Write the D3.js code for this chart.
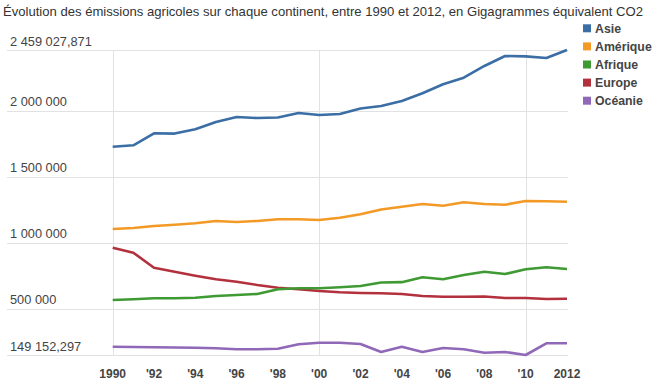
<!DOCTYPE html>
<html>
<head>
<meta charset="utf-8">
<script src="https://cdn.jsdelivr.net/npm/d3@7"></script>
<style>
  body { margin: 0; background: #fff; }
  svg { font-family: "Liberation Sans", Arial, sans-serif; }
  .grid line { stroke: #e2e2e2; stroke-width: 1px; }
  .ylab { fill: #444; font-size: 12.8px; }
  .xlab { fill: #444; font-size: 12px; font-weight: bold; }
  .legend text { fill: #444; font-size: 12.3px; font-weight: bold; }
</style>
</head>
<body>
<svg id="chart" width="653" height="384"></svg>
<script>
var years = d3.range(1990, 2013);

var asie = [1726700, 1737300, 1828000, 1826000, 1858500, 1913700, 1951600, 1944000, 1947800, 1982000, 1967000, 1974400,
            2016000, 2035000, 2072800, 2131000, 2199200, 2249200, 2337900, 2413600, 2411000, 2398500, 2459027.871];
var amerique = [1103400, 1111000, 1126100, 1136000, 1146600, 1164000, 1156400, 1164000, 1176900, 1176900, 1171600, 1189000,
                1214700, 1251000, 1272300, 1292700, 1280000, 1305600, 1292700, 1287400, 1315400, 1313200, 1310100];
var afrique = [565700, 571000, 578600, 578600, 583100, 596000, 603600, 611100, 646700, 654300, 654300, 661900,
               671700, 698200, 700700, 737600, 722500, 755000, 780000, 762600, 798200, 813300, 800500];
var europe = [961800, 923900, 810300, 780000, 749700, 722500, 704300, 679300, 658800, 646700, 633800, 624000,
              618700, 616400, 611100, 596000, 590700, 590700, 592000, 580800, 580800, 573300, 575500];
var oceanie = [212000, 209700, 207500, 205950, 204400, 199900, 192300, 192300, 196900, 230200, 242300, 242300,
               232500, 171900, 212000, 171900, 202200, 192300, 166600, 171900, 149152.297, 237800, 237800];

var seriesNames = ["Asie", "Amérique", "Afrique", "Europe", "Océanie"];
var seriesColors = ["#3a6ea5", "#f39a26", "#3f9a33", "#b3303d", "#9068b8"];
var seriesValues = [asie, amerique, afrique, europe, oceanie];

var yMin = 149152.297, yMax = 2459027.871;
var yTicks = [yMin, 500000, 1000000, 1500000, 2000000, yMax];
var xTickYears = [1990, 1992, 1994, 1996, 1998, 2000, 2002, 2004, 2006, 2008, 2010, 2012];
var xTickLabels = ["1990", "'92", "'94", "'96", "'98", "'00", "'02", "'04", "'06", "'08", "'10", "2012"];
var xGridYears = [1990, 2000, 2010];
var title = "Évolution des émissions agricoles sur chaque continent, entre 1990 et 2012, en Gigagrammes équivalent CO2";

var svg = d3.select("#chart");

var x = d3.scaleLinear().domain([1990, 2012]).range([112.7, 567]);
var y = d3.scaleLinear().domain([yMin, yMax]).range([355, 50]);

var fr = d3.formatLocale({decimal: ",", thousands: "\u00a0", grouping: [3], currency: ["", ""]});
function fmt(v) {
  return Number.isInteger(v) ? fr.format(",d")(v) : fr.format(",.3f")(v);
}

// titre
svg.append("text")
  .attr("x", 3).attr("y", 16)
  .attr("fill", "#333")
  .attr("font-size", "13px")
  .attr("textLength", 640)
  .attr("lengthAdjust", "spacingAndGlyphs")
  .text(title);

// grille
var grid = svg.append("g").attr("class", "grid");
grid.selectAll(".h").data(yTicks).enter().append("line")
  .attr("x1", 7).attr("x2", 568)
  .attr("y1", d => Math.round(y(d)) + 0.5).attr("y2", d => Math.round(y(d)) + 0.5);
grid.selectAll(".v").data(xGridYears).enter().append("line")
  .attr("x1", d => Math.round(x(d)) + 0.5).attr("x2", d => Math.round(x(d)) + 0.5)
  .attr("y1", 50).attr("y2", 356);

// etiquettes y
svg.selectAll(".ylab").data(yTicks).enter().append("text")
  .attr("class", "ylab")
  .attr("x", 10)
  .attr("y", d => y(d) - 4.5)
  .text(d => fmt(d));

// etiquettes x
svg.selectAll(".xlab").data(xTickYears).enter().append("text")
  .attr("class", "xlab")
  .attr("text-anchor", "middle")
  .attr("x", d => x(d))
  .attr("y", 378)
  .text((d, i) => xTickLabels[i]);

// courbes
var line = d3.line().x((d, i) => x(years[i])).y(d => y(d));
svg.selectAll(".serie").data(seriesValues.slice().reverse()).enter().append("path")
  .attr("fill", "none")
  .attr("stroke", (d, i) => seriesColors[seriesColors.length - 1 - i])
  .attr("stroke-width", 2.6)
  .attr("stroke-linejoin", "round")
  .attr("d", line);

// legende
var leg = svg.append("g").attr("class", "legend");
var items = leg.selectAll("g").data(seriesNames).enter().append("g")
  .attr("transform", (d, i) => "translate(583," + (28.3 + i * 18.1) + ")");
items.append("rect")
  .attr("x", 0).attr("y", -4).attr("width", 8).attr("height", 8)
  .attr("fill", (d, i) => seriesColors[i]);
items.append("text")
  .attr("x", 12).attr("y", 4.5)
  .text(d => d);
</script>
</body>
</html>
